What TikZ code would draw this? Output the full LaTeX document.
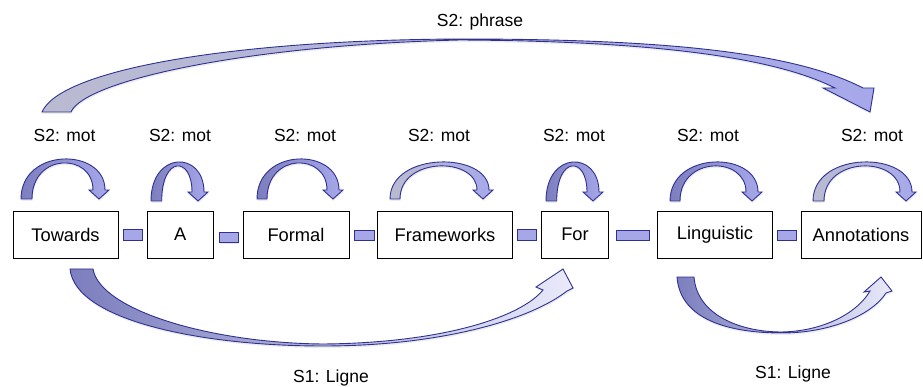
\documentclass[tikz,border=0pt]{standalone}
\usepackage{fontspec}
\setmainfont{Liberation Sans}
\usetikzlibrary{shadows,calc}
\definecolor{bord}{RGB}{46,49,146}
\definecolor{tdark}{RGB}{124,126,190}
\definecolor{hlight}{RGB}{166,168,234}
\definecolor{tgrey}{RGB}{186,187,208}
\definecolor{vlight}{RGB}{234,234,250}
\definecolor{linkfill}{RGB}{165,167,230}
\tikzset{
  wordbox/.style={draw=black, line width=0.8pt, minimum height=47pt, inner sep=0pt,
    font=\fontsize{18.3}{22}\selectfont},
  lab/.style={font=\fontsize{17.5}{21}\selectfont, inner sep=0pt},
  arrowshape/.style={draw=bord, line width=0.9pt, line join=miter,
    drop shadow={shadow xshift=0.5pt, shadow yshift=-2pt, opacity=0.15}},
  linkbox/.style={draw=bord, line width=0.9pt, fill=linkfill,
    drop shadow={shadow xshift=0.5pt, shadow yshift=-1.5pt, opacity=0.2}},
}
% #1 tail outer x, #2 tail width, #3 tip x, #4 base y, #5 top y, #6 tail colour, #7 head colour
\newcommand{\toparc}[7]{%
  \draw[arrowshape, left color=#6, right color=#7]
    (#1,#4) .. controls (#1,{4/3*#5-(2*#4-9)/6}) and ({#3+6},{4/3*#5-(2*#4-9)/6}) .. ({#3+6},{#4-9})
    -- ({#3+10},{#4-9}) -- (#3,#4) -- ({#3-10},{#4-9}) -- ({#3-6},{#4-9})
    .. controls ({#3-6},{4/3*(#5+4)-(2*#4-9)/6}) and ({#1+#2},{4/3*(#5+4)-(2*#4-9)/6}) .. ({#1+#2},#4)
    -- cycle;}
\begin{document}
\begin{tikzpicture}[x=1pt,y=-1pt]
\useasboundingbox (0,0) rectangle (923,387);

% word boxes
\node[wordbox, minimum width=105pt]   (towards) at (65.5,234.7) {Towards};
\node[wordbox, minimum width=66.7pt]  (a)       at (180.3,234.7) {A};
\node[wordbox, minimum width=106pt]   (formal)  at (296,234.7) {Formal};
\node[wordbox, minimum width=134.6pt] (frame)   at (445,234.7) {Frameworks};
\node[wordbox, minimum width=66.6pt]  (for)     at (575,234.7) {For};
\node[wordbox, minimum width=115.4pt] (ling)    at (715,234.7) {Linguistic};
\node[wordbox, minimum width=120pt]   (annot)   at (861,234.7) {Annotations};

% links between words
\draw[linkbox] ([xshift=4.7pt,yshift=5.4pt]towards.east) rectangle ([xshift=-4.3pt,yshift=-5.3pt]a.west);
\draw[linkbox] ([xshift=5pt,yshift=2.7pt]a.east) rectangle ([xshift=-4.3pt,yshift=-7.5pt]formal.west);
\draw[linkbox] ([xshift=5.5pt,yshift=4.7pt]formal.east) rectangle ([xshift=-3.2pt,yshift=-5.3pt]frame.west);
\draw[linkbox] ([xshift=5pt,yshift=5.4pt]frame.east) rectangle ([xshift=-4.4pt,yshift=-5.3pt]for.west);
\draw[linkbox] ([xshift=7.7pt,yshift=4.7pt]for.east) rectangle ([xshift=-7.3pt,yshift=-5.3pt]ling.west);
\draw[linkbox] ([xshift=4.6pt,yshift=4.7pt]ling.east) rectangle ([xshift=-3.7pt,yshift=-5.3pt]annot.west);

% word-level arcs
\toparc{21}{11}{99}{199}{159}{tdark}{hlight}
\toparc{151}{10.7}{198}{201}{162}{tdark}{hlight}
\toparc{257}{10}{333}{199}{159}{tdark}{hlight}
\toparc{390}{10}{483}{199}{162}{tgrey}{hlight}
\toparc{546}{10.7}{593}{201}{162}{tdark}{hlight}
\toparc{670}{10}{752}{201}{162}{tdark}{hlight}
\toparc{813}{11}{906}{201}{162}{tgrey}{hlight}

% sentence arc
\draw[arrowshape, left color=tgrey, right color=hlight]
  (42,112) .. controls (60,70) and (230,40) .. (460,39)
  .. controls (650,39) and (790,50) .. (863,88)
  -- (874,88) -- (870,112) -- (823,88) -- (835,88)
  .. controls (770,55) and (640,41) .. (460,40)
  .. controls (250,45) and (85,80) .. (71,112) -- cycle;

% line arcs
\draw[arrowshape, left color=tdark, right color=vlight]
  (70,269) .. controls (75,320) and (200,346) .. (323,346)
  .. controls (440,346) and (530,320) .. (567,291)
  -- (573,288) -- (563,269) -- (536,287) -- (543,290)
  .. controls (520,318) and (440,343) .. (323,344)
  .. controls (210,343) and (100,310) .. (93,269) -- cycle;
\draw[arrowshape, left color=tdark, right color=vlight]
  (677,277) .. controls (680,320) and (730,333) .. (782,333)
  .. controls (830,333) and (872,315) .. (886,293)
  -- (892,291) -- (881,277) -- (864,292) -- (870,291)
  .. controls (858,312) and (825,331) .. (782,332)
  .. controls (740,332) and (697,315) .. (694,277) -- cycle;

% labels
\node[lab] (lphrase) at (480,22) {S2: phrase};
\node[lab] (l1) at (64.6,135) {S2: mot};
\node[lab] (l2) at (180,135) {S2: mot};
\node[lab] (l3) at (305,135) {S2: mot};
\node[lab] (l4) at (439,135) {S2: mot};
\node[lab] (l5) at (574,135) {S2: mot};
\node[lab] (l6) at (708,135) {S2: mot};
\node[lab] (l7) at (872,135) {S2: mot};
\node[lab] (ligne1) at (331,378) {S1: Ligne};
\node[lab] (ligne2) at (793,374) {S1: Ligne};
\end{tikzpicture}
\end{document}
